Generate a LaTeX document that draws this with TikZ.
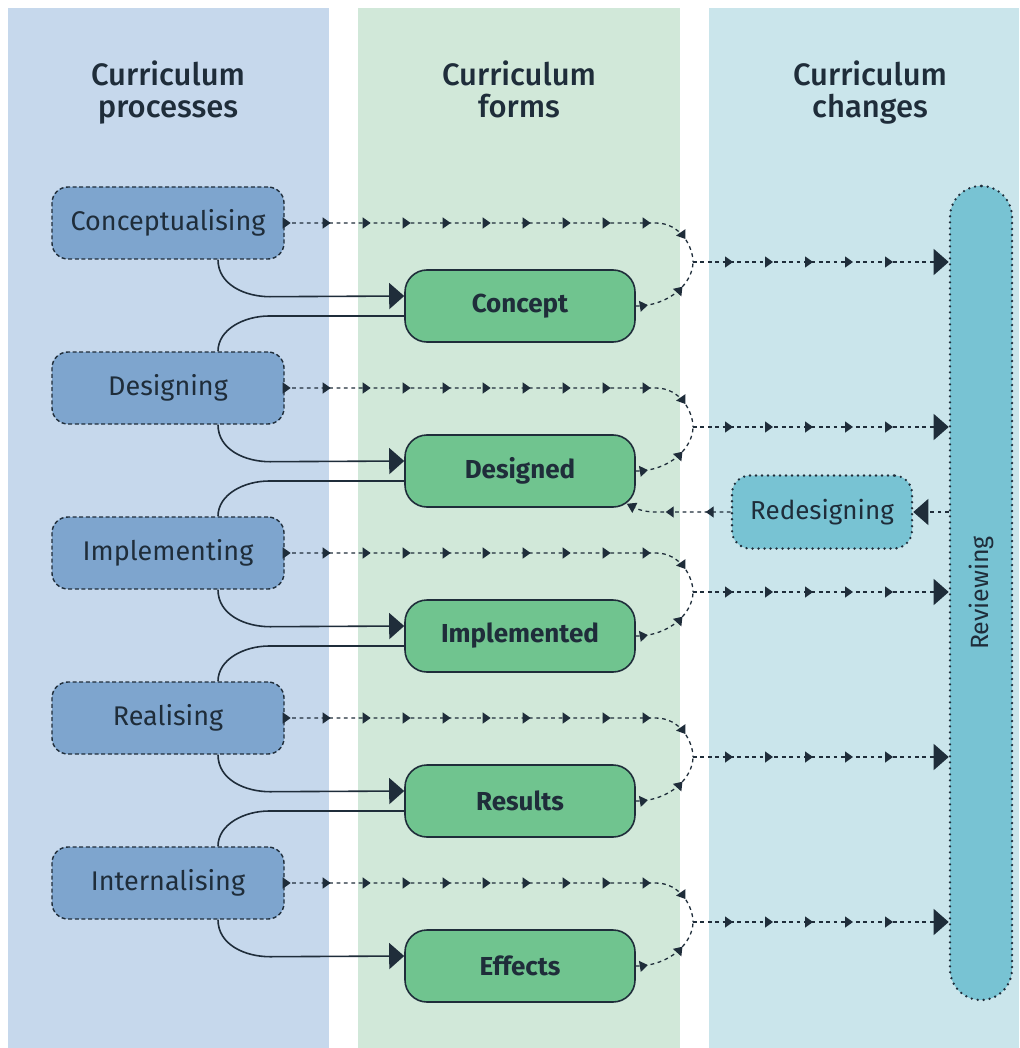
\documentclass[tikz,border=0pt]{standalone}
\usepackage{fontspec}
\setmainfont{Fira Sans}
\newfontfamily\hdrfont{Fira Sans Medium}
\usetikzlibrary{arrows.meta,decorations.markings}
\definecolor{panelA}{HTML}{C6D8EC}
\definecolor{panelB}{HTML}{D1E8D9}
\definecolor{panelC}{HTML}{CAE5EB}
\definecolor{procfill}{HTML}{7EA5CE}
\definecolor{formfill}{HTML}{70C48F}
\definecolor{revfill}{HTML}{78C3D3}
\definecolor{ink}{HTML}{1F2D3A}
\begin{document}
\begin{tikzpicture}[x=1pt,y=-1pt,
  hdr/.style={align=center,text=ink,anchor=north,font=\hdrfont\fontsize{31}{32}\selectfont},
  procbox/.style={draw=ink,fill=procfill,dash pattern=on 4pt off 2.6pt,line width=1.4pt,
    rounded corners=16pt,minimum width=232pt,minimum height=72pt,inner sep=0pt,
    text=ink,font=\fontsize{27}{30}\selectfont},
  formbox/.style={draw=ink,fill=formfill,line width=1.6pt,rounded corners=22pt,
    minimum width=230pt,minimum height=72pt,inner sep=0pt,text=ink,
    font=\fontsize{26}{29}\selectfont\bfseries},
  dotbox/.style={draw=ink,fill=revfill,dash pattern=on 0pt off 6pt,line cap=round,line width=2.6pt},
  solidl/.style={draw=ink,line width=1.6pt},
  bigtip/.style={-{Triangle[length=15pt,width=26pt]}},
  flow/.style={draw=ink,line width=1.3pt,dash pattern=on 3.8pt off 3.6pt,
    postaction={decorate},
    decoration={markings,mark=between positions #1 with {\arrow{Triangle[length=8pt,width=11pt]}}}},
  dline/.style={draw=ink,line width=1.3pt,dash pattern=on 3.8pt off 3.6pt}
]
\useasboundingbox (0,0) rectangle (1019,1048);
\fill[white] (0,0) rectangle (1019,1048);
\fill[panelA] (8,8) rectangle (329,1048);
\fill[panelB] (358,8) rectangle (680,1048);
\fill[panelC] (709,8) rectangle (1019,1048);

\node[hdr] (h1) at (168,57) {Curriculum\\processes};
\node[hdr] (h2) at (519,57) {Curriculum\\forms};
\node[hdr] (h3) at (870,57) {Curriculum\\changes};

\node[dotbox,rounded corners=31pt,minimum width=62pt,minimum height=814pt] (rev) at (981,593) {};
\node[rotate=90,text=ink,font=\fontsize{25}{28}\selectfont] (revlabel) at (rev) {Reviewing};

\foreach \i/\pn/\fn in {1/Conceptualising/Concept,2/Designing/Designed,3/Implementing/Implemented,4/Realising/Results,5/Internalising/Effects}{
  \pgfmathsetmacro{\yp}{223+165*(\i-1)}
  \pgfmathsetmacro{\yf}{306+165*(\i-1)}
  \node[procbox] (p\i) at (168,\yp) {\pn};
  \node[formbox] (f\i) at (520,\yf) {\fn};
  \coordinate (m\i) at (693,\yf-44);
  \draw[solidl,bigtip] ([xshift=50pt]p\i.south) .. controls +(0,25) and +(-25,0) .. ++(52,37) -- ([yshift=10pt]f\i.west);
  \draw[flow={6pt and -8pt step 40pt}] (p\i.east) -- ++(371,0) .. controls +(25,0) and +(0,-15) .. (m\i);
  \draw[flow={12pt and -5pt step 40pt}] (f\i.east) .. controls +(35,0) and +(0,20) .. (m\i);
  \draw[flow={40pt and -30pt step 40pt},bigtip] (m\i) -- (m\i -| rev.west);
}
\foreach \i/\j in {1/2,2/3,3/4,4/5}{
  \draw[solidl] ([yshift=-10pt]f\i.west) -- ++(-135,0) .. controls +(-25,0) and +(0,-22) .. ([xshift=50pt]p\j.north);
}

\node[dotbox,rounded corners=18pt,minimum width=180pt,minimum height=73pt,text=ink,
  font=\fontsize{26}{29}\selectfont] (redes) at (822,512) {Redesigning};
\draw[dline,bigtip] (rev.west |- redes.east) -- (redes.east);
\draw[flow={25pt and -30pt step 40pt},-{Triangle[length=9pt,width=11pt]}] (redes.west) -- ++(-75,0) .. controls +(-12,0) and +(10,5) .. ([xshift=-9pt,yshift=4pt]f2.south east);
\end{tikzpicture}
\end{document}
